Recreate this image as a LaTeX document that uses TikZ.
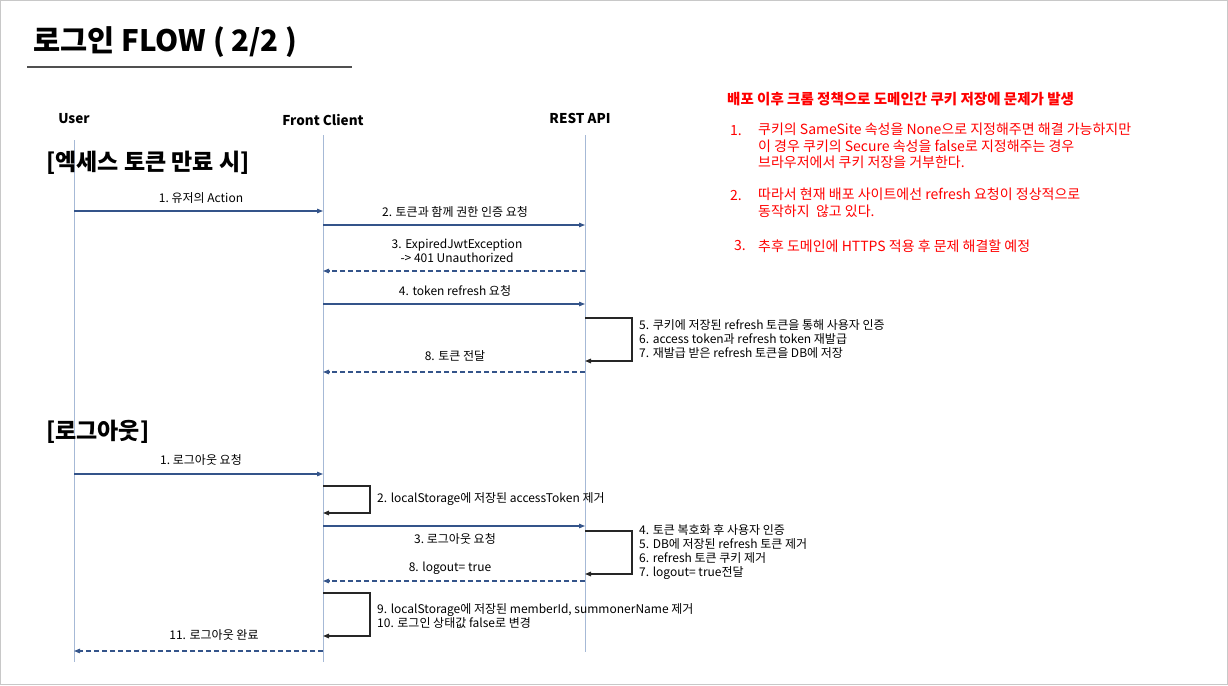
\documentclass[tikz,border=0pt]{standalone}
\usepackage{fontspec}
\setmainfont{Noto Sans CJK KR}
\usetikzlibrary{arrows.meta}

\newcommand{\selfcall}[4]% lifeline, top y, bottom y, right x
{(#1 |- 0,#2) -- (#4,#2) -- (#4,#3) -- (#1 |- 0,#3)}

\begin{document}
\begin{tikzpicture}[x=1pt, y=-1pt,
  lifeline/.style={draw=lline, line width=1pt},
  msg/.style={draw=arrowc, line width=1.1pt, -{Triangle[length=6pt,width=4.5pt]}},
  reply/.style={msg, dash pattern=on 5pt off 3pt},
  loopline/.style={draw=black!85, line width=1.4pt, -{Triangle[length=6pt,width=4.5pt]}},
  lbl/.style={font=\fontsize{12}{14.3}\selectfont, inner sep=0pt},
  note/.style={lbl, anchor=west, align=left},
  redtxt/.style={text=red, font=\fontsize{14}{16.3}\selectfont, anchor=west, inner sep=0pt, align=left}]

\definecolor{lline}{RGB}{166,185,214}
\definecolor{arrowc}{RGB}{52,84,138}
\definecolor{frame}{RGB}{200,200,200}
\definecolor{rulec}{RGB}{80,80,80}

\useasboundingbox (0,0) rectangle (1228,685);
\draw[frame] (0.5,0.5) rectangle (1227.5,684.5);

% title
\node[anchor=west, inner sep=0pt, font=\bfseries\fontsize{29.5}{32}\selectfont] (title) at (33,42) {로그인 FLOW ( 2/2 )};
\draw[rulec, line width=2.2pt] (27,67) -- (352,67);

% participants
\node[font=\bfseries\fontsize{13.5}{16}\selectfont, inner sep=0pt] (huser) at (74,119) {User};
\node[font=\bfseries\fontsize{13.5}{16}\selectfont, inner sep=0pt] (hfront) at (323,120) {Front Client};
\node[font=\bfseries\fontsize{13.5}{16}\selectfont, inner sep=0pt] (hrest) at (580,118) {REST API};

\coordinate (user) at (74,140);
\coordinate (front) at (323,135);
\coordinate (rest) at (585,135);

\draw[lifeline] (user) -- (user |- 0,662);
\draw[lifeline] (front) -- (front |- 0,662);
\draw[lifeline] (rest) -- (rest |- 0,652);

% section headers
\node[anchor=west, inner sep=0pt, font=\bfseries\fontsize{23}{26}\selectfont] (sec1) at (46,163) {[엑세스 토큰 만료 시]};
\node[anchor=west, inner sep=0pt, font=\bfseries\fontsize{23}{26}\selectfont] (sec2) at (46,432) {[로그아웃]};

% access token expired
\draw[msg] (user |- 0,211) -- (front |- 0,211);
\node[lbl] (m1) at (201,198) {1.\ 유저의 Action};
\draw[msg] (front |- 0,225) -- (rest |- 0,225);
\node[lbl] (m2) at (455,212) {2. 토큰과 함께 권한 인증 요청};
\draw[reply] (rest |- 0,271) -- (front |- 0,271);
\node[lbl, align=center] (m3) at (457,251) {3. ExpiredJwtException\\-> 401 Unauthorized};
\draw[msg] (front |- 0,304) -- (rest |- 0,304);
\node[lbl] (m4) at (455,291) {4. token refresh 요청};
\draw[loopline] \selfcall{rest}{318}{361}{632};
\node[note] (m5) at (639,339) {5. 쿠키에 저장된 refresh 토큰을 통해 사용자 인증\\6. access token과 refresh token 재발급\\7. 재발급 받은 refresh 토큰을 DB에 저장};
\draw[reply] (rest |- 0,372) -- (front |- 0,372);
\node[lbl] (m8) at (455,356) {8. 토큰 전달};

% logout
\draw[msg] (user |- 0,474) -- (front |- 0,474);
\node[lbl] (l1) at (201,460) {1.\ 로그아웃 요청};
\draw[loopline] \selfcall{front}{486}{513}{370};
\node[note] (l2) at (377,499) {2. localStorage에 저장된 accessToken 제거};
\draw[msg] (front |- 0,526) -- (rest |- 0,526);
\node[lbl] (l3) at (455,539) {3.\ 로그아웃 요청};
\draw[loopline] \selfcall{rest}{531}{574}{632};
\node[note] (l4) at (639,552) {4. 토큰 복호화 후 사용자 인증\\5. DB에 저장된 refresh 토큰 제거\\6. refresh 토큰 쿠키 제거\\7. logout= true전달};
\draw[reply] (rest |- 0,581) -- (front |- 0,581);
\node[lbl] (l8) at (450,568) {8. logout= true};
\draw[loopline] \selfcall{front}{593}{636}{370};
\node[note] (l9) at (377,616) {9. localStorage에 저장된 memberId, summonerName 제거\\10. 로그인 상태값 false로 변경};
\draw[reply] (front |- 0,651) -- (user |- 0,651);
\node[lbl] (l11) at (214,635) {11. 로그아웃 완료};

% deploy issue
\node[redtxt, font=\bfseries\fontsize{14.5}{17}\selectfont] (issue) at (727,99) {배포 이후 크롬 정책으로 도메인간 쿠키 저장에 문제가 발생};
\node[redtxt] (n1) at (730,131) {1.};
\node[redtxt, anchor=north west] (t1) at (758,123) {쿠키의 SameSite 속성을 None으로 지정해주면 해결 가능하지만\\이 경우 쿠키의 Secure 속성을 false로 지정해주는 경우\\브라우저에서 쿠키 저장을 거부한다.};
\node[redtxt] (n2) at (730,196) {2.};
\node[redtxt, anchor=north west] (t2) at (758,188) {따라서 현재 배포 사이트에선 refresh 요청이 정상적으로\\동작하지\ \ 않고 있다.};
\node[redtxt] (n3) at (734,246) {3.};
\node[redtxt] (t3) at (758,246) {추후 도메인에 HTTPS 적용 후 문제 해결할 예정};

\end{tikzpicture}
\end{document}
